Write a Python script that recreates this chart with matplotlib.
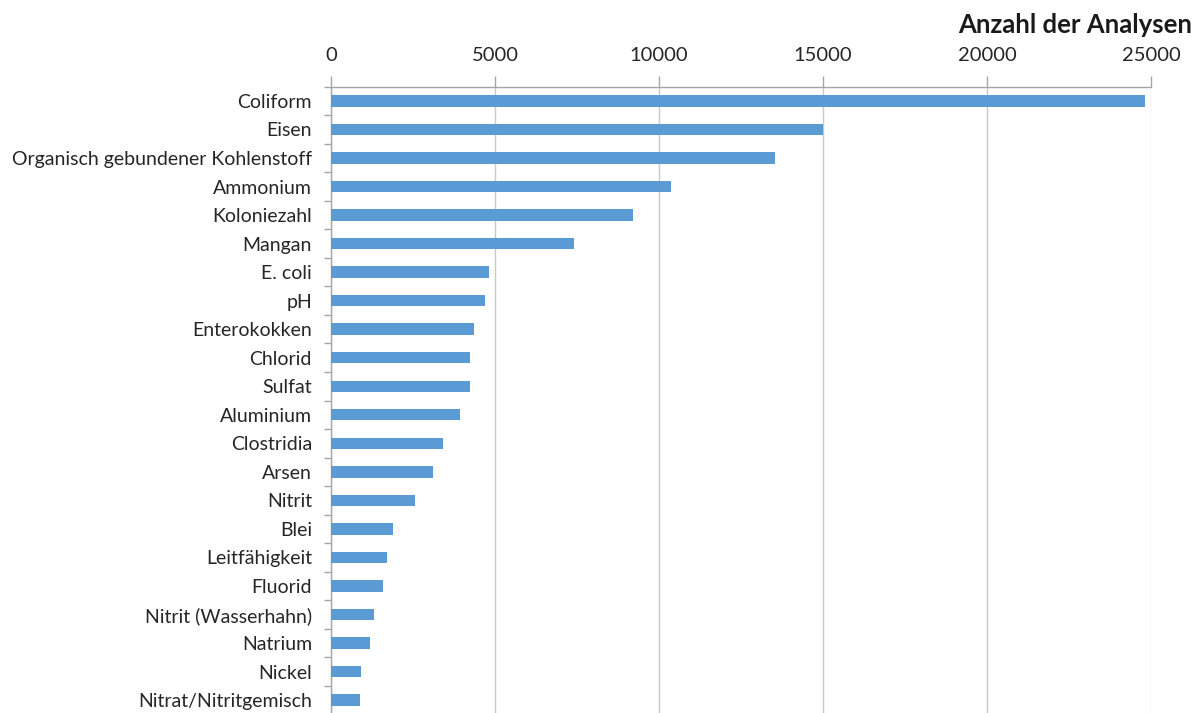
import matplotlib
matplotlib.use("Agg")
import matplotlib.pyplot as plt
import numpy as np

categories = ["Coliform", "Eisen", "Organisch gebundener Kohlenstoff", "Ammonium",
              "Koloniezahl", "Mangan", "E. coli", "pH", "Enterokokken", "Chlorid",
              "Sulfat", "Aluminium", "Clostridia", "Arsen", "Nitrit", "Blei",
              "Leitfähigkeit", "Fluorid", "Nitrit (Wasserhahn)", "Natrium", "Nickel",
              "Nitrat/Nitritgemisch"]
values = [24830, 15000, 13540, 10370, 9210, 7410, 4830, 4680, 4360, 4250,
          4250, 3930, 3420, 3110, 2560, 1900, 1700, 1590, 1310, 1200, 925, 885]
xticks = [0, 5000, 10000, 15000, 20000, 25000]

plt.rcParams['font.family'] = ['Lato', 'DejaVu Sans']

fig = plt.figure(figsize=(12.02, 7.13), dpi=100)
ax = fig.add_axes([331/1202, 1 - 714.3/713, (1151 - 331)/1202, (714.3 - 86.7)/713])

y = np.arange(len(categories))
ax.barh(y, values, height=0.4, color='#5B9BD5', zorder=3)
ax.set_ylim(len(categories) - 0.5, -0.5)
ax.set_xlim(0, 25000)

ax.set_yticks(y)
ax.set_yticklabels(categories, fontsize=14, color='#262626')
ax.set_yticks(np.arange(-0.5, len(categories), 1), minor=True)
ax.tick_params(axis='y', which='major', length=0, pad=13.7)
ax.tick_params(axis='y', which='minor', length=5, width=1, color='#a6a6a6', direction='out')

ax.xaxis.tick_top()
ax.set_xticks(xticks)
ax.set_xticklabels([str(v) for v in xticks], fontsize=14.5, color='#262626')
ax.tick_params(axis='x', which='major', length=8, width=1, color='#a6a6a6', pad=8.5)
ax.grid(axis='x', color='#c8c8c8', linewidth=1, zorder=0)

for s in ['right', 'bottom']:
    ax.spines[s].set_visible(False)
for s in ['top', 'left']:
    ax.spines[s].set_color('#a6a6a6')
    ax.spines[s].set_linewidth(1)

fig.text(1192/1202, 1 - 25/713, "Anzahl der Analysen", ha='right', va='center',
         fontsize=18.5, fontweight='bold', color='#1a1a1a')

fig.savefig("out.png", dpi=100)
